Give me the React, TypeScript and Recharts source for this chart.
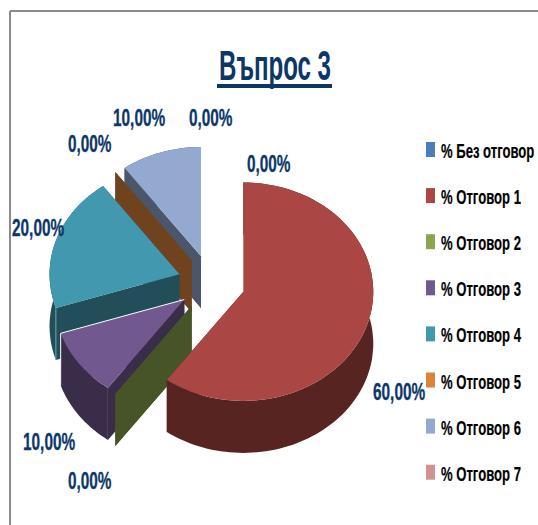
import { Legend, Pie, PieChart } from 'recharts'

const categories = ['% Без отговор', '% Отговор 1', '% Отговор 2', '% Отговор 3', '% Отговор 4', '% Отговор 5', '% Отговор 6', '% Отговор 7']
const percentages = [0, 60, 0, 10, 20, 0, 10, 0]
const colors = ['#4a7ebb', '#aa4643', '#89a54e', '#71588f', '#4198af', '#db843d', '#93a9cf', '#d19392']

// drawn back to front, so the table runs the other way round and the pie turns counter-clockwise
const table = categories
  .map((name, i) => ({ name, value: percentages[i], fill: colors[i] }))
  .reverse()

const FONT = '"Liberation Sans Narrow", "Liberation Sans", sans-serif'
const NAVY = '#0b3768'
const SQUASH = 0.84
const DEPTH = 52
const EXPLODE = 33.5

// where Excel left each data label: [left, baseline]
const labelSpots: Record<string, [number, number]> = {
  '% Без отговор': [247, 172],
  '% Отговор 1': [373, 400],
  '% Отговор 2': [68, 489],
  '% Отговор 3': [23, 450],
  '% Отговор 4': [12, 236],
  '% Отговор 5': [68, 152],
  '% Отговор 6': [113, 126],
  '% Отговор 7': [189, 126],
}

function darken(hex: string): string {
  const n = parseInt(hex.slice(1), 16)
  const part = (v: number) => Math.round(v * 0.51)
  return `rgb(${part((n >> 16) & 255)},${part((n >> 8) & 255)},${part(n & 255)})`
}

function toPath(pts: number[][]): string {
  return 'M' + pts.map((p) => `${p[0].toFixed(1)},${p[1].toFixed(1)}`).join('L') + 'Z'
}

function Slice3D(props: any) {
  const { cx, cy, outerRadius, startAngle, endAngle, fill, name } = props
  const rad = Math.PI / 180
  const mid = ((startAngle + endAngle) / 2) * rad
  const ox = cx + EXPLODE * Math.cos(mid)
  const oy = cy - EXPLODE * SQUASH * Math.sin(mid)

  const arc: number[][] = []
  const steps = Math.max(1, Math.ceil(Math.abs(endAngle - startAngle) / 2))
  for (let i = 0; i <= steps; i++) {
    const a = (startAngle + ((endAngle - startAngle) * i) / steps) * rad
    arc.push([ox + outerRadius * Math.cos(a), oy - outerRadius * SQUASH * Math.sin(a)])
  }
  const drop = (p: number[]) => [p[0], p[1] + DEPTH]
  const wall = darken(fill)
  const first = arc[0]
  const last = arc[arc.length - 1]

  return (
    <g>
      <path d={toPath([[ox, oy], first, drop(first), [ox, oy + DEPTH]])} fill={wall} />
      <path d={toPath([[ox, oy], last, drop(last), [ox, oy + DEPTH]])} fill={wall} />
      <path d={toPath([...arc, ...arc.map(drop).reverse()])} fill={wall} />
      {props.value > 0 && <path d={toPath([[ox, oy], ...arc])} fill={fill} />}
      {/* thin light edges the original render has on these two */}
      {name === '% Отговор 3' && (
        <polyline
          points={`${ox},${oy} ${first[0]},${first[1]} ${first[0]},${first[1] + DEPTH}`}
          fill="none"
          stroke="#fff"
          strokeWidth={1}
        />
      )}
      {name === '% Отговор 4' && (
        <line x1={last[0]} y1={last[1]} x2={last[0]} y2={last[1] + DEPTH} stroke="#6fa3b0" strokeWidth={1} />
      )}
    </g>
  )
}

function PercentLabel(props: any) {
  const spot = labelSpots[props.name]
  const text = `${props.value.toFixed(2).replace('.', ',')}%`
  return (
    <text
      x={spot[0]}
      y={spot[1]}
      fill={NAVY}
      stroke={NAVY}
      strokeWidth={0.3}
      fontFamily={FONT}
      fontWeight="bold"
      fontSize={23}
      textLength={text.length * 8.7}
      lengthAdjust="spacingAndGlyphs"
    >
      {text}
    </text>
  )
}

function LegendList() {
  return (
    <svg width={112} height={370} style={{ display: 'block' }}>
      {categories.map((c, i) => (
        <g key={c}>
          <rect x={0} y={2 + i * 46.1} width={9} height={15} fill={colors[i]} />
          <text
            transform={`translate(15 ${18 + i * 46.1}) scale(0.655 1)`}
            fill="#000"
            stroke="#000"
            strokeWidth={0.2}
            fontFamily={FONT}
            fontWeight="bold"
            fontSize={20}
          >
            {c}
          </text>
        </g>
      ))}
    </svg>
  )
}

export default function App() {
  return (
    <div style={{ position: 'absolute', left: 0, top: 0, width: 538, height: 525, background: '#fff' }}>
      <PieChart width={538} height={525} margin={{ top: 0, right: 0, bottom: 0, left: 0 }}>
        <line x1={10} y1={11} x2={538} y2={11} stroke="#8c8c8c" strokeWidth={2} />
        <line x1={10} y1={11} x2={10} y2={525} stroke="#8c8c8c" strokeWidth={2} />
        <text
          x={219}
          y={80}
          fill={NAVY}
          fontFamily={FONT}
          fontWeight="bold"
          fontSize={42}
          textLength={112}
          lengthAdjust="spacingAndGlyphs"
        >
          Въпрос 3
        </text>
        <line x1={217} y1={86} x2={332} y2={86} stroke={NAVY} strokeWidth={4} />
        <Pie
          data={table}
          dataKey="value"
          nameKey="name"
          cx={211.4}
          cy={283}
          outerRadius={130}
          startAngle={90}
          endAngle={450}
          stroke="none"
          shape={Slice3D}
          label={PercentLabel}
          labelLine={false}
          isAnimationActive={false}
        />
        <Legend content={LegendList} wrapperStyle={{ position: 'absolute', left: 426, top: 140, width: 112, bottom: 'auto' }} />
      </PieChart>
    </div>
  )
}
